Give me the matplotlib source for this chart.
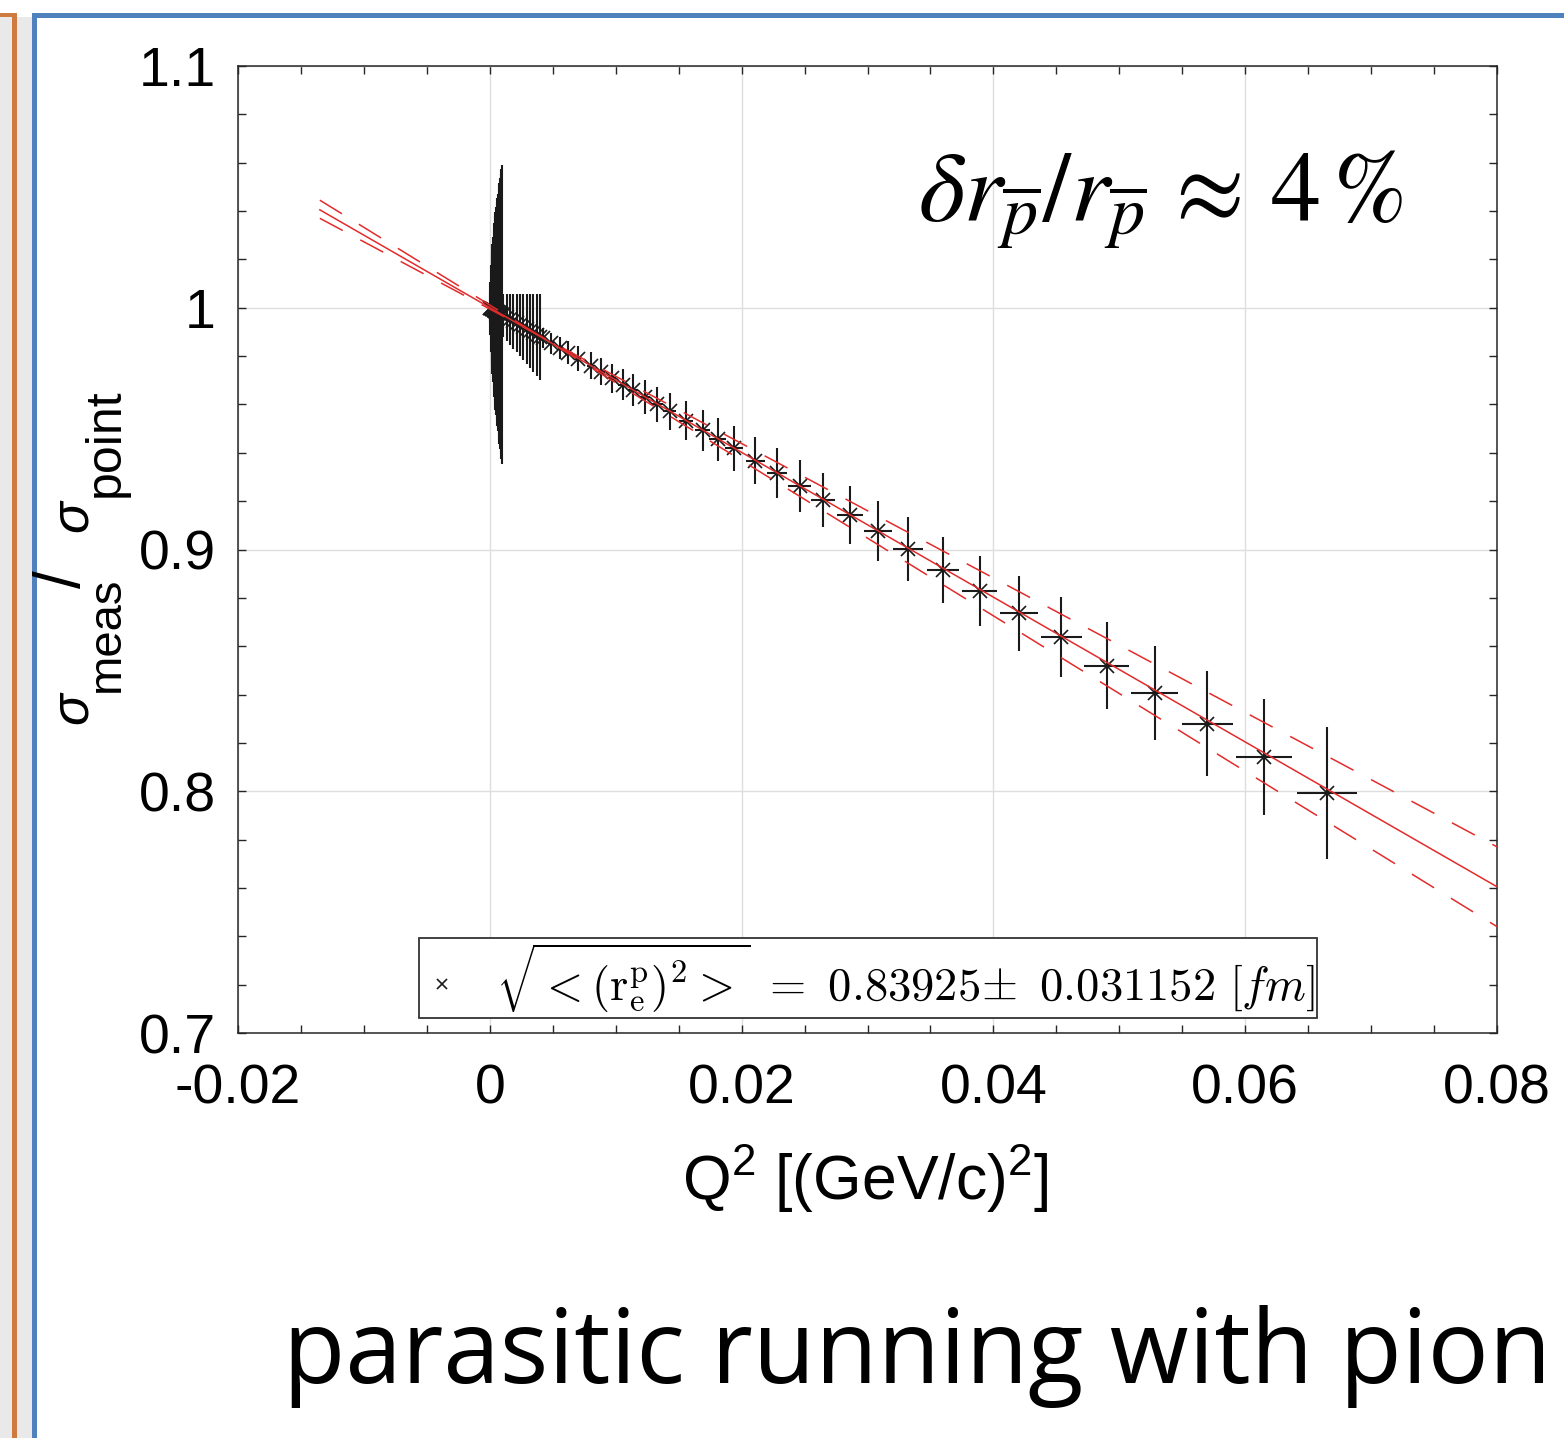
import matplotlib
matplotlib.use("Agg")
import matplotlib.pyplot as plt
from matplotlib.patches import Rectangle

plt.rcParams["font.family"] = ["Liberation Sans", "DejaVu Sans"]
plt.rcParams["mathtext.fontset"] = "cm"
plt.rcParams["mathtext.rm"] = "Liberation Sans"
plt.rcParams["mathtext.it"] = "Liberation Sans:italic"

# lowest Q2 points: huge errors (the black spindle near Q2 = 0)
q_low = [0.00002, 0.00005, 0.0001, 0.00015, 0.0002, 0.00025, 0.0003, 0.00035, 0.0004, 0.00045,
         0.0005, 0.00055, 0.0006, 0.00065, 0.0007, 0.00075, 0.0008, 0.00085, 0.0009, 0.00095]
r_low = [0.9999, 0.9998, 0.9997, 0.9996, 0.9994, 0.9993, 0.9991, 0.9990, 0.9988, 0.9987,
         0.9985, 0.9984, 0.9982, 0.9981, 0.9979, 0.9978, 0.9976, 0.9975, 0.9973, 0.9972]
e_low = [0.006, 0.011, 0.018, 0.023, 0.027, 0.030, 0.033, 0.036, 0.039, 0.041,
         0.043, 0.045, 0.047, 0.049, 0.052, 0.054, 0.056, 0.058, 0.060, 0.062]

# next group ("comb")
q_comb = [0.00107, 0.00134, 0.0016, 0.00187, 0.00213, 0.0024,
          0.00267, 0.00293, 0.0032, 0.00346, 0.00373, 0.004]
r_comb = [0.9968, 0.9960, 0.9952, 0.9944, 0.9936, 0.9928,
          0.9920, 0.9912, 0.9904, 0.9896, 0.9888, 0.9880]
e_comb = [0.0089, 0.0097, 0.0105, 0.0113, 0.0121, 0.0129,
          0.0137, 0.0145, 0.0153, 0.0161, 0.0169, 0.0177]

# remaining points
q_main = [0.0042, 0.0049, 0.0056, 0.0062, 0.0070, 0.0080, 0.0088, 0.0097, 0.0106, 0.0114,
          0.0123, 0.0133, 0.0143, 0.0156, 0.0169, 0.0181, 0.0194, 0.0211, 0.0228, 0.0246,
          0.0265, 0.0286, 0.0308, 0.0332, 0.0360, 0.0389, 0.0420, 0.0454, 0.0490, 0.0528,
          0.0570, 0.0615, 0.0665]
r_main = [0.9874, 0.9853, 0.9832, 0.9814, 0.9790, 0.9761, 0.9736, 0.9709, 0.9682, 0.9658,
          0.9631, 0.9601, 0.9571, 0.9532, 0.9493, 0.9457, 0.9418, 0.9367, 0.9316, 0.9262,
          0.9205, 0.9142, 0.9077, 0.9002, 0.8915, 0.8828, 0.8737, 0.8638, 0.8520, 0.8406,
          0.8280, 0.8142, 0.7993]
e_main = [0.0042, 0.0044, 0.0046, 0.0048, 0.0051, 0.0054, 0.0057, 0.0060, 0.0063, 0.0066,
          0.0069, 0.0073, 0.0077, 0.0081, 0.0085, 0.0089, 0.0093, 0.0098, 0.0103, 0.0108,
          0.0113, 0.0119, 0.0125, 0.0131, 0.0138, 0.0145, 0.0155, 0.0166, 0.0179, 0.0196,
          0.0217, 0.0240, 0.0272]
qe_main = [0.00015, 0.00018, 0.0002, 0.00022, 0.00025, 0.00029, 0.00032, 0.00035, 0.00038, 0.00041,
           0.00044, 0.00048, 0.00052, 0.00056, 0.00061, 0.00065, 0.0007, 0.00076, 0.00082, 0.00089,
           0.00095, 0.00103, 0.00111, 0.0012, 0.0013, 0.0014, 0.00151, 0.00163, 0.00177, 0.0019,
           0.00205, 0.00222, 0.0024]

# fit line and its error band (end points)
fit_q = [-0.0135, 0.08]
fit_central = [1.0405, 0.7605]
fit_band_a = [1.0445, 0.7440]
fit_band_b = [1.0370, 0.7770]

xticks = [-0.02, 0, 0.02, 0.04, 0.06, 0.08]
xticklabels = ["-0.02", "0", "0.02", "0.04", "0.06", "0.08"]
yticks = [0.7, 0.8, 0.9, 1.0, 1.1]
yticklabels = ["0.7", "0.8", "0.9", "1", "1.1"]

W, H = 1564, 1438
fig = plt.figure(figsize=(W / 100, H / 100), dpi=100)


def px(x0, y0, w, h):
    # pixel box (top-left origin) -> figure fraction rectangle
    return (x0 / W, 1 - (y0 + h) / H), w / W, h / H


def fx(x):
    return x / W


def fy(y):
    return 1 - y / H


# slide decoration
for (x0, y0, w, h), c in [((0, 17, 32, H), "#e9e9e9"),
                          ((12, 13, 5, H), "#cf7b3f"),
                          ((0, 13, 17, 4), "#cf7b3f"),
                          ((32, 13, 5, H), "#4f81bd"),
                          ((32, 13, W, 5), "#4f81bd")]:
    xy, ww, hh = px(x0, y0, w, h)
    fig.add_artist(Rectangle(xy, ww, hh, transform=fig.transFigure, color=c, lw=0, zorder=0))

ax = fig.add_axes([238 / W, 1 - 1033 / H, 1259 / W, 967 / H])

q_all = q_low + q_comb + q_main
r_all = r_low + r_comb + r_main
e_all = e_low + e_comb + e_main
qe_all = [0] * (len(q_low) + len(q_comb)) + qe_main

ax.errorbar(q_all, r_all, yerr=e_all, xerr=qe_all, fmt="none", ecolor="0.1",
            elinewidth=1.5, capsize=0, zorder=2)
label = r"$\sqrt{<(\mathrm{r}_\mathrm{e}^\mathrm{p})^2>}\ =\ 0.83925\!\pm\ 0.031152\ [fm]$"
ax.plot(q_all, r_all, "x", color="0.1", ms=10, mew=1.2, zorder=3, label=label)

red = "#e32b2b"
ax.plot(fit_q, fit_central, color=red, lw=1.1, zorder=4)
ax.plot(fit_q, fit_band_a, color=red, lw=1.1, dashes=(17, 13), zorder=4)
ax.plot(fit_q, fit_band_b, color=red, lw=1.1, dashes=(17, 13), zorder=4)

ax.set_xlim(-0.02, 0.08)
ax.set_ylim(0.7, 1.1)
ax.set_xticks(xticks)
ax.set_xticklabels(xticklabels)
ax.set_yticks(yticks)
ax.set_yticklabels(yticklabels)
ax.set_xticks([-0.02 + 0.005 * i for i in range(21)], minor=True)
ax.set_yticks([0.7 + 0.02 * i for i in range(21)], minor=True)
ax.tick_params(which="both", direction="in", top=True, right=True, length=6, width=1.0,
               color="0.15", labelsize=40)
ax.tick_params(axis="x", pad=22)
ax.tick_params(axis="y", pad=16)
ax.grid(True, which="major", color="0.87", lw=1.0)
ax.set_axisbelow(True)
for s in ax.spines.values():
    s.set_color("0.15")
    s.set_linewidth(1.1)

leg = ax.legend(loc="center", bbox_to_anchor=(0.5004, 0.0569), fontsize=33.5, frameon=True,
                fancybox=False, edgecolor="0.2", framealpha=1, handlelength=0.9,
                handletextpad=0.7, borderpad=0.06, markerscale=0.75)
leg.get_frame().set_linewidth(1.3)

fig.text(fx(865), fy(1200), r"Q$^\mathrm{2}$ [(GeV/c)$^\mathrm{2}$]", fontsize=45,
         ha="center", va="baseline", math_fontfamily="custom")

# y label built from pieces (MATLAB-style large subscripts)
ylab_kw = dict(rotation=90, rotation_mode="anchor", ha="left", va="baseline")
fig.text(fx(87), fy(724), "\u03c3", fontsize=38, style="italic", **ylab_kw)
fig.text(fx(119), fy(692), "meas", fontsize=34, **ylab_kw)
fig.text(fx(80), fy(588), "/", fontsize=46, **ylab_kw)
fig.text(fx(87), fy(532), "\u03c3", fontsize=38, style="italic", **ylab_kw)
fig.text(fx(119), fy(497), "point", fontsize=36, **ylab_kw)

fig.text(fx(918), fy(222),
         r"$\delta r_{\overline{p}}/r_{\overline{p}}\,\approx\,4\,\%$",
         fontsize=72, ha="left", va="baseline", math_fontfamily="stix")

fig.text(fx(283), fy(1383), "parasitic running with pion", fontsize=73.3,
         family="Open Sans", ha="left", va="baseline")

fig.savefig("out.png", dpi=100)
